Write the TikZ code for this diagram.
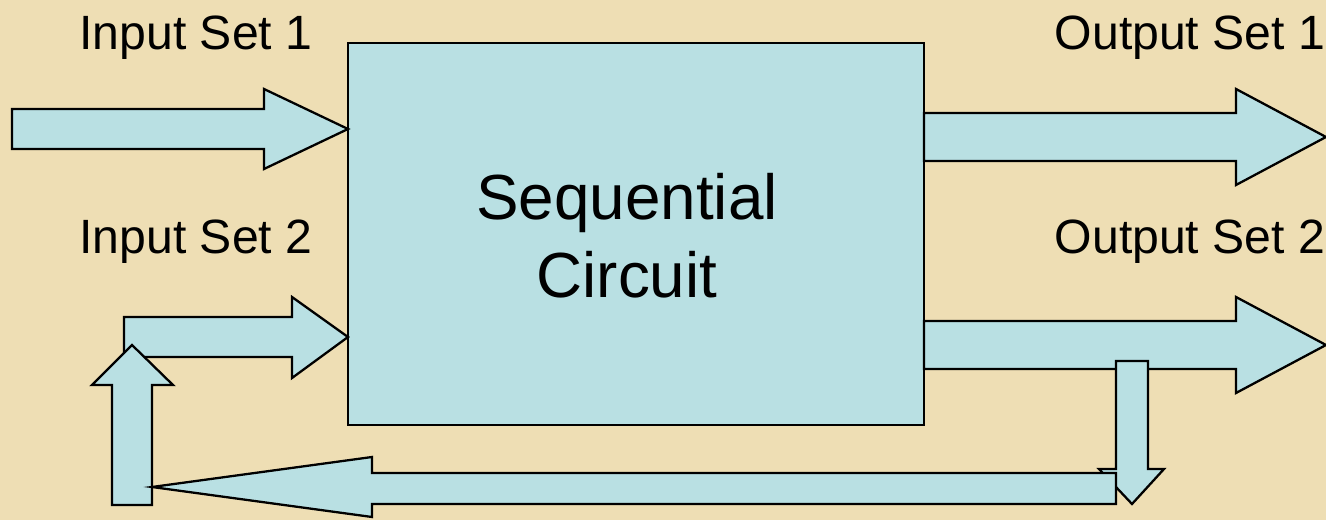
\documentclass[tikz,border=0pt]{standalone}
\usepackage{fontspec}
\setmainfont{Liberation Sans}
\usetikzlibrary{positioning}
\definecolor{parchment}{RGB}{238,222,180}
\definecolor{paleblue}{RGB}{185,224,227}

\begin{document}
\begin{tikzpicture}[
    x=0.02cm,
    y=-0.02cm,
    block/.style={
        draw,
        fill=paleblue,
        line width=1.6pt,
        minimum width=11.52cm,
        minimum height=7.64cm
    },
    title/.style={align=center, font=\fontsize{36.3}{44.5}\selectfont},
    fatarrow/.style={draw, fill=paleblue, line width=1.3pt, line join=miter},
    setlabel/.style={font=\fontsize{27.4}{33}\selectfont, inner sep=0pt}
]

% ============================================================
% TLO
% ============================================================
\fill[parchment] (0,0) rectangle (1326,520);
\useasboundingbox (0,0) rectangle (1326,520);

% ============================================================
% UKLAD SEKWENCYJNY
% ============================================================
\node[block] (seq) at (636,234) {};
\node[title, xshift=-0.18cm, yshift=-0.04cm] (seqname) at (seq.center) {Sequential\\Circuit};

% ============================================================
% WEJSCIA
% ============================================================
\draw[fatarrow] (12,109) -- (264,109) -- (264,89) -- (348,129)
    -- (264,169) -- (264,149) -- (12,149) -- cycle;
\draw[fatarrow] (124,317) -- (292,317) -- (292,297) -- (348,337)
    -- (292,378) -- (292,357) -- (124,357) -- cycle;
\draw[fatarrow] (112,505) -- (112,385) -- (92,385) -- (132,345)
    -- (173,385) -- (152,385) -- (152,505) -- cycle;

% ============================================================
% WYJSCIA
% ============================================================
\draw[fatarrow] (924,113) -- (1236,113) -- (1236,89) -- (1326,137)
    -- (1236,185) -- (1236,161) -- (924,161) -- cycle;
\draw[fatarrow] (924,321) -- (1236,321) -- (1236,297) -- (1326,345)
    -- (1236,393) -- (1236,369) -- (924,369) -- cycle;

% ============================================================
% SPRZEZENIE ZWROTNE
% ============================================================
\draw[fatarrow] (1116,361) -- (1148,361) -- (1148,469) -- (1164,469)
    -- (1132,504) -- (1099,469) -- (1116,469) -- cycle;
\draw[fatarrow] (1116,473) -- (372,473) -- (372,457) -- (152,487)
    -- (372,517) -- (372,504) -- (1116,504) -- cycle;

% ============================================================
% ETYKIETY
% ============================================================
\node[setlabel] (in1) at (196,38) {Input Set 1};
\node[setlabel] (in2) at (196,242) {Input Set 2};
\node[setlabel] (out1) at (1190,38) {Output Set 1};
\node[setlabel] (out2) at (1190,242) {Output Set 2};

\end{tikzpicture}
\end{document}
